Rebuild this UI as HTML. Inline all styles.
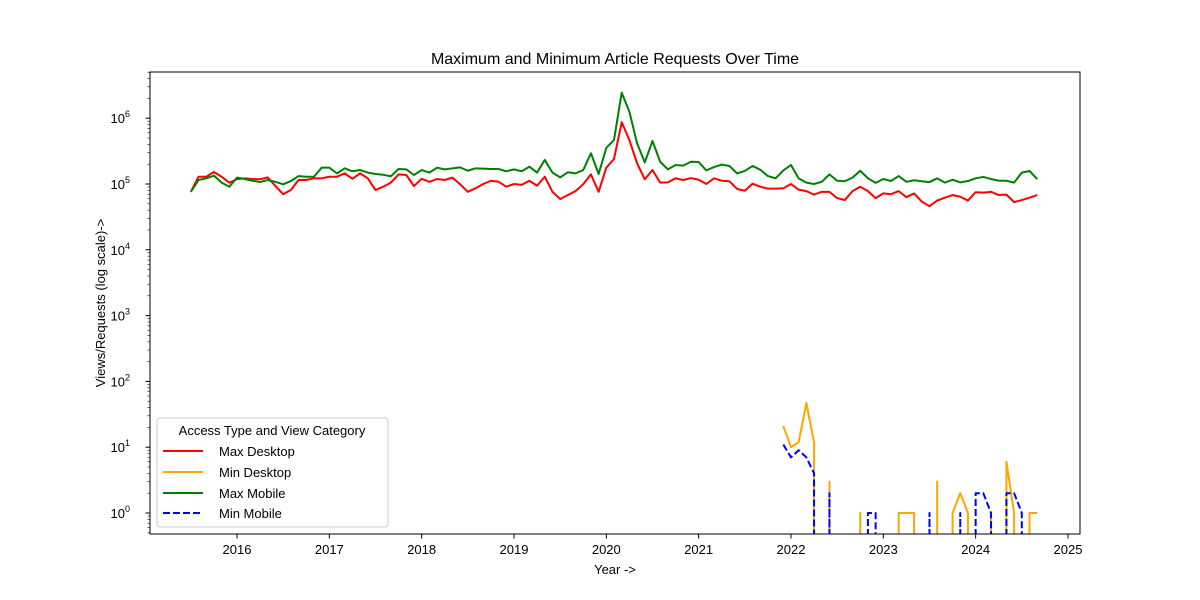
<!DOCTYPE html>
<html><head><meta charset="utf-8"><style>
html,body{margin:0;padding:0;background:#fff;width:1200px;height:600px;overflow:hidden;}
svg{display:block;font-family:"Liberation Sans","DejaVu Sans",sans-serif;}
</style></head><body>
<svg id="chart" width="1200" height="600" xmlns="http://www.w3.org/2000/svg">
<defs><clipPath id="plotclip"><rect x="150" y="72" width="930" height="462"/></clipPath></defs>
<rect width="1200" height="600" fill="#fff"/>
<text x="615" y="64" font-size="16" text-anchor="middle">Maximum and Minimum Article Requests Over Time</text>
<text x="615" y="574" font-size="13" text-anchor="middle">Year -&gt;</text>
<text transform="translate(105,303) rotate(-90)" font-size="13" text-anchor="middle">Views/Requests (log scale)-&gt;</text>
<g id="axes"></g>
<g id="series" clip-path="url(#plotclip)"></g>
<rect x="150" y="72" width="930" height="462" fill="none" stroke="#000" stroke-width="1"/>
<g>
<rect x="157" y="418" width="231" height="109" rx="3" fill="#fff" fill-opacity="0.8" stroke="#ccc"/>
<text x="272" y="435" font-size="13" text-anchor="middle">Access Type and View Category</text>
<g><line x1="163" y1="451" x2="203" y2="451" stroke="red" stroke-width="2"/><text x="219" y="456" font-size="13">Max Desktop</text></g>
<g><line x1="163" y1="472" x2="203" y2="472" stroke="orange" stroke-width="2"/><text x="219" y="477" font-size="13">Min Desktop</text></g>
<g><line x1="163" y1="493" x2="203" y2="493" stroke="green" stroke-width="2"/><text x="219" y="498" font-size="13">Max Mobile</text></g>
<g><line x1="163" y1="513" x2="203" y2="513" stroke="blue" stroke-width="2" stroke-dasharray="7,3"/><text x="219" y="518" font-size="13">Min Mobile</text></g>
</g>
</svg>
<script>
const startYear = 2015, startMonth = 7;
const xTicks = [2016,2017,2018,2019,2020,2021,2022,2023,2024,2025];
const yTickExps = [0,1,2,3,4,5,6];
const maxDesktop = [76e3,129e3,129e3,152e3,129e3,105e3,118e3,122e3,119e3,118e3,126e3,93e3,70e3,81e3,115e3,115e3,122e3,122e3,129e3,129e3,145e3,120e3,145e3,122e3,81e3,91e3,105e3,140e3,137e3,93e3,120e3,108e3,119e3,115e3,125e3,99e3,76e3,86e3,100e3,112e3,108e3,91e3,100e3,97e3,112e3,94e3,129e3,76e3,59e3,68e3,78e3,99e3,140e3,76e3,177e3,240e3,866e3,466e3,206e3,118e3,163e3,105e3,106e3,122e3,115e3,123e3,116e3,100e3,122e3,112e3,110e3,84e3,79e3,101e3,91e3,85e3,85e3,86e3,100e3,82e3,78e3,69e3,76e3,76e3,61e3,57e3,78e3,91e3,78e3,61e3,72e3,70e3,78e3,63e3,72e3,54e3,46e3,56e3,62e3,68e3,64e3,56e3,75e3,74e3,76e3,68e3,69e3,53e3,57e3,62e3,68e3];
const maxMobile = [76e3,115e3,122e3,134e3,105e3,91e3,125e3,119e3,112e3,107e3,115e3,108e3,99e3,111e3,132e3,129e3,129e3,177e3,177e3,145e3,173e3,156e3,163e3,149e3,142e3,138e3,131e3,169e3,167e3,137e3,163e3,149e3,177e3,167e3,173e3,179e3,159e3,173e3,171e3,169e3,169e3,156e3,167e3,156e3,183e3,149e3,232e3,149e3,126e3,151e3,145e3,163e3,293e3,142e3,355e3,466e3,2.45e6,1.25e6,415e3,213e3,450e3,218e3,167e3,194e3,190e3,218e3,216e3,161e3,181e3,197e3,188e3,145e3,158e3,188e3,165e3,132e3,122e3,161e3,194e3,122e3,105e3,100e3,108e3,140e3,112e3,110e3,125e3,159e3,122e3,104e3,119e3,111e3,132e3,108e3,114e3,110e3,107e3,122e3,105e3,116e3,106e3,111e3,122e3,128e3,119e3,112e3,112e3,105e3,149e3,158e3,119e3];
const minStartIndex = 77;
const minDesktop = [21,10,12,47,11.7,0,3,0,0,0,1,0,0,0,0,1,1,1,0,0,3,0,1,2,1,0,0,1,0,6,1,0,1,1];
const minMobile = [11,7,9,7,4,0,2,0,0,0,0,1,1,0,0,0,0,0,0,1,0,0,0,1,0,2,2,1,0,2,2,1,0,0];

const NS = "http://www.w3.org/2000/svg";
const FLOOR_Y = 536;
function xScale(yearFrac){ return 237 + (yearFrac - 2016) * 92.33; }
function xIndex(i){ return xScale(startYear + (startMonth - 1 + i) / 12); }
function yScale(v){ return 513 - Math.log10(v) * 65.8; }

const axes = document.getElementById('axes');
xTicks.forEach(t => {
  const x = xScale(t);
  const l = document.createElementNS(NS, 'line');
  
  
  l.setAttribute('x1', x); l.setAttribute('x2', x); l.setAttribute('y1', 534); l.setAttribute('y2', 538.5);
  l.setAttribute('stroke', '#000');
  axes.appendChild(l);
  const tx = document.createElementNS(NS, 'text');
  
  
  tx.setAttribute('x', x); tx.setAttribute('y', 554);
  tx.setAttribute('font-size', '13'); tx.setAttribute('text-anchor', 'middle');
  tx.textContent = t;
  axes.appendChild(tx);
});
yTickExps.forEach(e => {
  const y = yScale(Math.pow(10, e));
  const l = document.createElementNS(NS, 'line');
  
  
  l.setAttribute('x1', 145.5); l.setAttribute('x2', 150); l.setAttribute('y1', y); l.setAttribute('y2', y);
  l.setAttribute('stroke', '#000');
  axes.appendChild(l);
  const tx = document.createElementNS(NS, 'text');
  
  
  tx.setAttribute('x', 130); tx.setAttribute('y', y + 5);
  tx.setAttribute('font-size', '13'); tx.setAttribute('text-anchor', 'end');
  tx.innerHTML = '10<tspan dy="-6" font-size="9">' + e + '</tspan>';
  axes.appendChild(tx);
});
for (let e = -1; e <= 6; e++) {
  for (let m = 2; m <= 9; m++) {
    const y = yScale(m * Math.pow(10, e));
    if (y < 72 || y > 534) continue;
    const l = document.createElementNS(NS, 'line');
    
    
    l.setAttribute('x1', 147.5); l.setAttribute('x2', 150); l.setAttribute('y1', y); l.setAttribute('y2', y);
    l.setAttribute('stroke', '#000'); l.setAttribute('stroke-width', '0.6');
    axes.appendChild(l);
  }
}

const series = document.getElementById('series');
function drawLine(vals, offset, color, dash, name) {
  let d = '';
  let penDown = false;
  for (let i = 0; i < vals.length; i++) {
    const v = vals[i];
    const x = xIndex(i + offset).toFixed(2);
    if (v > 0) {
      const y = yScale(v).toFixed(2);
      if (!penDown) {
        if (i > 0 && vals[i - 1] <= 0) d += 'M' + x + ',' + FLOOR_Y + 'L' + x + ',' + y;
        else d += 'M' + x + ',' + y;
        penDown = true;
      } else {
        d += 'L' + x + ',' + y;
      }
    } else {
      if (penDown) {
        const px = xIndex(i - 1 + offset).toFixed(2);
        d += 'L' + px + ',' + FLOOR_Y;
      }
      penDown = false;
    }
  }
  const p = document.createElementNS(NS, 'path');
  
  
  p.setAttribute('d', d);
  p.setAttribute('fill', 'none'); p.setAttribute('stroke', color); p.setAttribute('stroke-width', '2');
  p.setAttribute('stroke-linejoin', 'round');
  if (dash) p.setAttribute('stroke-dasharray', dash);
  series.appendChild(p);
}
drawLine(maxDesktop, 0, 'red', null, 'max-desktop-line');
drawLine(minDesktop, minStartIndex, 'orange', null, 'min-desktop-line');
drawLine(maxMobile, 0, 'green', null, 'max-mobile-line');
drawLine(minMobile, minStartIndex, 'blue', '7,3', 'min-mobile-line');
</script>
</body></html>
